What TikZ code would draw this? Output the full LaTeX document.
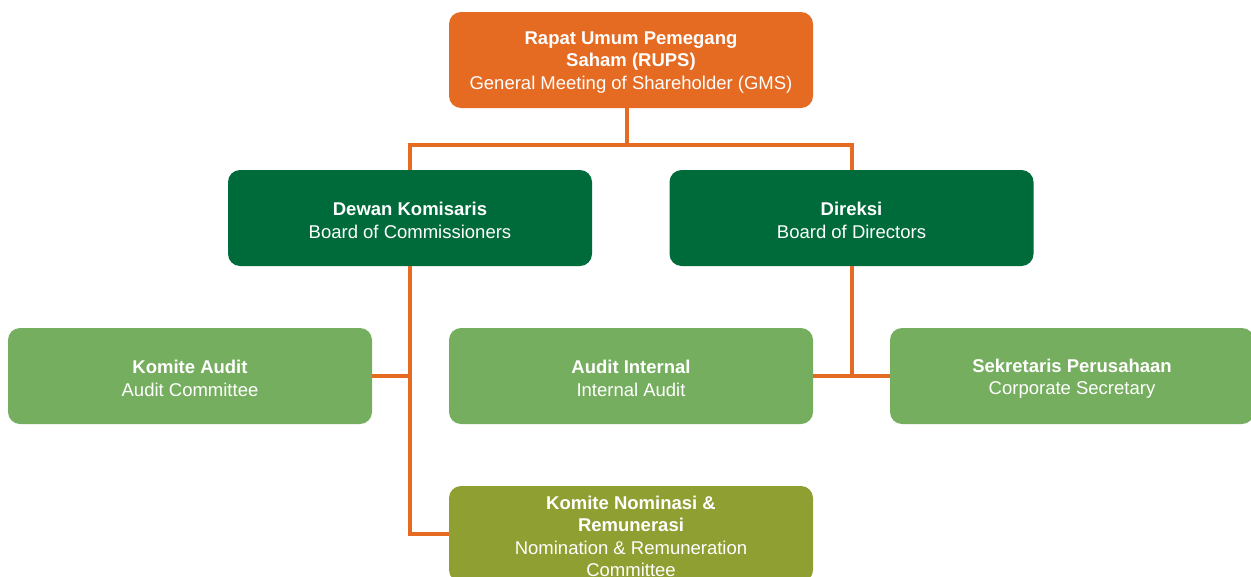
\documentclass[tikz,border=0pt]{standalone}
\usepackage{fontspec}
\setmainfont{Liberation Sans}
\definecolor{corange}{HTML}{E56A22}
\definecolor{cdark}{HTML}{006B3A}
\definecolor{clight}{HTML}{76AE5F}
\definecolor{colive}{HTML}{8F9F32}
\tikzset{
  box/.style={rounded corners=12pt, minimum width=364pt, minimum height=96pt, inner sep=0pt},
  txt/.style={text=white, align=center, inner sep=0pt, font=\fontsize{18.5}{22.5}\selectfont},
  link/.style={draw=corange, line width=4pt}
}
\begin{document}
\begin{tikzpicture}[x=1pt,y=-1pt]
\useasboundingbox (0,0) rectangle (1251,576);
\clip (0,0) rectangle (1251,576);
\node[box, fill=corange] (rups) at (631,60) {};
\node[box, fill=cdark] (dk) at (410,218) {};
\node[box, fill=cdark] (dir) at (851.5,218) {};
\node[box, fill=clight] (ka) at (190,376) {};
\node[box, fill=clight] (ai) at (631,376) {};
\node[box, fill=clight] (sp) at (1072,376) {};
\node[box, fill=colive] (kn) at (631,534) {};
\node[txt] (trups) at ([yshift=-2.5pt]rups.center) {\textbf{Rapat Umum Pemegang}\\\textbf{Saham (RUPS)}\\General Meeting of Shareholder (GMS)};
\node[txt] (tdk) at ([yshift=-2.5pt]dk.center) {\textbf{Dewan Komisaris}\\Board of Commissioners};
\node[txt] (tdir) at ([yshift=-2.5pt]dir.center) {\textbf{Direksi}\\Board of Directors};
\node[txt] (tka) at ([yshift=-2.5pt]ka.center) {\textbf{Komite Audit}\\Audit Committee};
\node[txt] (tai) at ([yshift=-2.5pt]ai.center) {\textbf{Audit Internal}\\Internal Audit};
\node[txt] (tsp) at ([yshift=-2.5pt]sp.center) {\textbf{Sekretaris Perusahaan}\\Corporate Secretary};
\node[txt] (tkn) at ([yshift=-2.5pt]kn.center) {\textbf{Komite Nominasi \&}\\\textbf{Remunerasi}\\Nomination \& Remuneration\\Committee};
\coordinate (bus) at (627,145);
\draw[link] (rups.south -| bus) -- (bus);
\draw[link] (dk.north) |- (bus) -| (dir.north);
\draw[link] (dk.south) |- (kn.west);
\draw[link] (ka.east) -- (ka.east -| dk.south);
\draw[link] (dir.south) -- (dir.south |- ai.east);
\draw[link] (ai.east) -- (sp.west);
\end{tikzpicture}
\end{document}
